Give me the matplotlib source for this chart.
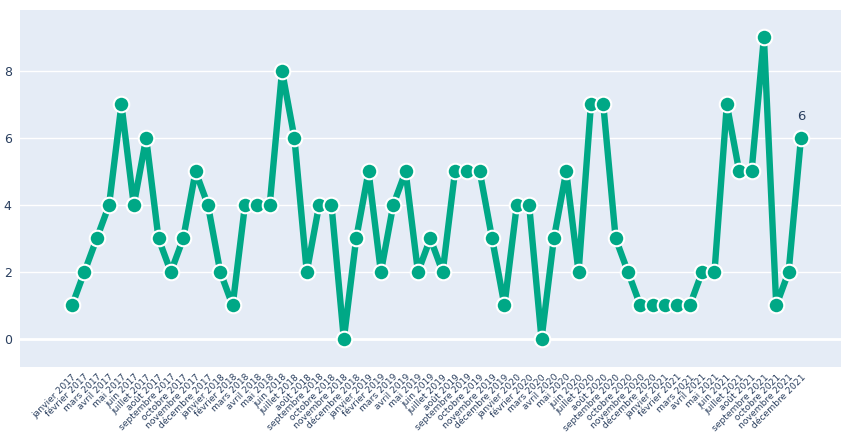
import matplotlib
matplotlib.use("Agg")
import matplotlib.pyplot as plt

months = ["janvier", "février", "mars", "avril", "mai", "juin", "juillet",
          "août", "septembre", "octobre", "novembre", "décembre"]
years = [2017, 2018, 2019, 2020, 2021]
categories = [f"{m} {y}" for y in years for m in months]

values = [1, 2, 3, 4, 7, 4, 6, 3, 2, 3,
          5, 4, 2, 1, 4, 4, 4, 8, 6, 2,
          4, 4, 0, 3, 5, 2, 4, 5, 2, 3,
          2, 5, 5, 5, 3, 1, 4, 4, 0, 3,
          5, 2, 7, 7, 3, 2, 1, 1, 1, 1,
          1, 2, 2, 7, 5, 5, 9, 1, 2, 6]

yticks = [0, 2, 4, 6, 8]

W, H = 841, 434
fig = plt.figure(figsize=(W / 100, H / 100), dpi=100)
ax = fig.add_axes([20 / W, (H - 367) / H, (841 - 20) / W, (367 - 10) / H])
ax.set_facecolor("#e5ecf6")

x = list(range(len(categories)))
line_color = "#00a886"
ax.plot(x, values, color=line_color, linewidth=4.6, solid_joinstyle="round",
        solid_capstyle="round", zorder=3)
ax.plot(x, values, linestyle="none", marker="o", markersize=11.2,
        markerfacecolor=line_color, markeredgecolor="white",
        markeredgewidth=1.5, zorder=4)

ax.annotate(str(values[-1]), (x[-1], values[-1]), xytext=(0, 11),
            textcoords="offset points", ha="center", va="bottom",
            fontsize=9.5, color="#2a3f5f", zorder=5)

ax.set_xlim(-4.21, 62.24)
ax.set_ylim(-0.836, 9.82)

ax.set_yticks(yticks)
ax.set_yticklabels([str(v) for v in yticks], fontsize=9, color="#2a3f5f")
ax.set_xticks(x)
ax.set_xticklabels(categories, rotation=45, ha="right", va="top",
                   rotation_mode="anchor", fontsize=6.6, color="#2a3f5f")

ax.grid(axis="y", color="white", linewidth=1.0, zorder=0)
ax.axhline(0, color="white", linewidth=2.0, zorder=1)
ax.set_axisbelow(True)
for s in ax.spines.values():
    s.set_visible(False)
ax.tick_params(axis="both", length=0)
ax.tick_params(axis="y", pad=6)
ax.tick_params(axis="x", pad=4)

fig.savefig("out.png", dpi=100, facecolor="white")
